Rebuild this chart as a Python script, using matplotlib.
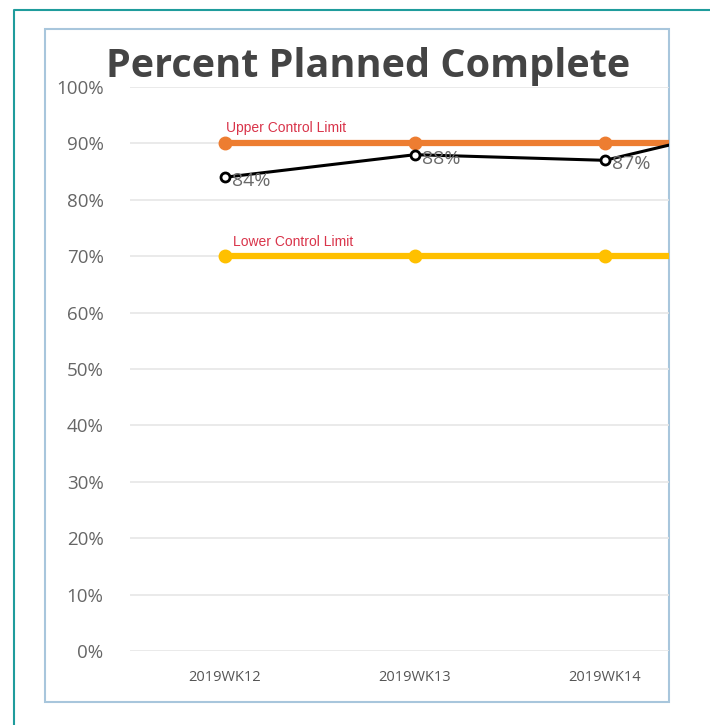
import matplotlib.pyplot as plt
from matplotlib.patches import Rectangle
from matplotlib.lines import Line2D

# datos del grafico
semanas = ['2019WK12', '2019WK13', '2019WK14', '2019WK15']
ppc = [84, 88, 87, 95]          # percent planned complete
ucl = [90, 90, 90, 90]          # upper control limit
lcl = [70, 70, 70, 70]          # lower control limit
etiquetas_y = ['0%', '10%', '20%', '30%', '40%', '50%', '60%', '70%', '80%', '90%', '100%']

plt.rcParams['font.family'] = ['Open Sans', 'DejaVu Sans']

fig = plt.figure(figsize=(7.1, 7.25), dpi=100)

# marco exterior (solo arriba e izquierda visibles)
fig.add_artist(Line2D([14/710, 14/710, 1.0], [0.0, 1 - 10/725, 1 - 10/725],
                      transform=fig.transFigure, color='#1f9c9c', lw=1.5))
# panel del grafico
fig.add_artist(Rectangle((45/710, 1 - 702/725), 624/710, 673/725, transform=fig.transFigure,
                         facecolor='white', edgecolor='#a8c6dc', lw=1.5, zorder=0))

ax = fig.add_axes([130/710, 1 - 651/725, 539/710, 564/725])
ax.set_facecolor('none')
x = list(range(len(semanas)))

ax.plot(x, ucl, color='#ed7d31', lw=4.5, marker='o', ms=9, zorder=3)
ax.plot(x, lcl, color='#ffc000', lw=4.5, marker='o', ms=9, zorder=3)
ax.plot(x, ppc, color='black', lw=2.2, marker='o', ms=6.5, mfc='white', mec='black', mew=2, zorder=4)

for i in range(len(semanas)):
    ax.annotate('%d%%' % ppc[i], (x[i], ppc[i]), xytext=(5, -3), textcoords='offset points',
                ha='left', va='center', fontsize=14, color='#6a6a6a', zorder=5, annotation_clip=True)

ax.annotate('Upper Control Limit', (x[0], ucl[0]), xytext=(1, 11), textcoords='offset points',
            ha='left', va='center', fontsize=10, color='#d9344a', family=['Liberation Sans'])
ax.annotate('Lower Control Limit', (x[0], lcl[0]), xytext=(6, 10), textcoords='offset points',
            ha='left', va='center', fontsize=10, color='#d9344a', family=['Liberation Sans'])

ax.set_yticks(range(0, 101, 10))
ax.set_yticklabels(etiquetas_y)
ax.set_xticks(x)
ax.set_xticklabels(semanas)
# la ultima semana queda cortada por el borde derecho
ax.set_xlim(-0.5, 2.337)
ax.set_ylim(0, 100)
ax.tick_params(axis='y', length=0, pad=19, labelsize=13.5, labelcolor='#666666')
ax.tick_params(axis='x', length=0, pad=14, labelsize=10.5, labelcolor='#555555')
ax.grid(axis='y', color='#e6e6e6', lw=1.2)
ax.set_axisbelow(True)
for s in ax.spines.values():
    s.set_visible(False)

fig.text(0.518, 1 - 67/725, 'Percent Planned Complete', ha='center', va='center',
         fontsize=28.5, fontweight='bold', color='#444444')

plt.savefig('out.png', dpi=100)
